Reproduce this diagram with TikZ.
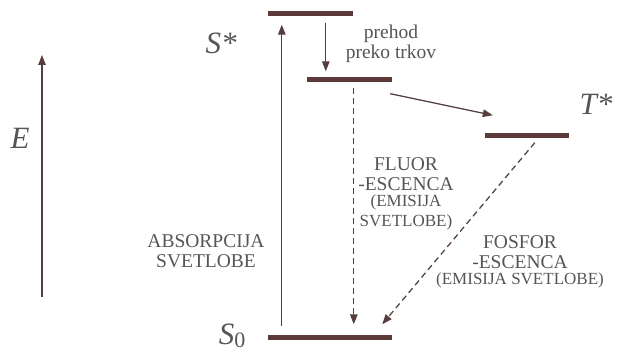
\documentclass[tikz,border=0pt]{standalone}
\usepackage{fontspec}
\setmainfont{Liberation Serif}
\usepackage{tikz}
\usetikzlibrary{arrows.meta, positioning, calc}

\definecolor{lvlcol}{RGB}{92,58,58}
\definecolor{arrcol}{RGB}{85,62,62}
\definecolor{txtcol}{RGB}{85,85,85}

\begin{document}
\begin{tikzpicture}[x=1pt, y=-1pt,
		level/.style={fill=lvlcol, inner sep=0pt, minimum height=5pt},
		arr/.style={arrcol, line width=1.25pt, -{Triangle[length=10pt,width=7.5pt]}},
		darr/.style={arr, dash pattern=on 6pt off 4pt},
		lab/.style={txtcol, align=center, font=\fontsize{19.5}{20.5}\selectfont},
		smalllab/.style={txtcol, align=center, font=\fontsize{17}{20}\selectfont},
		sym/.style={txtcol, font=\fontsize{31}{33}\selectfont\itshape}]
	\useasboundingbox (0,0) rectangle (617,352);
	% energijski nivoji
	\node[level, minimum width=85pt] (Sx) at (310.5,14) {};
	\node[level, minimum width=85pt] (S1) at (349.5,80) {};
	\node[level, minimum width=84pt] (T) at (527,136) {};
	\node[level, minimum width=124pt] (S0) at (330,337) {};
	% oznake
	\node[sym] (Sxlab) at (221,43) {S*};
	\node[sym] (Tlab) at (596,104) {T*};
	\node[sym] (S0lab) at (232,336) {S\raisebox{-0.2ex}{\fontsize{22}{24}\selectfont\upshape 0}};
	\node[sym] (Elab) at (20,138) {E};
	% os energije
	\coordinate (Elo) at (42,297);
	\coordinate (Ehi) at (42,55);
	\draw[arr] (Elo) -- (Ehi);
	% prehodi
	\draw[arr, shorten <=8pt, shorten >=8pt] ([xshift=14pt]S0.north west) -- ([xshift=14pt]Sx.south west);
	\draw[arr, shorten <=6pt, shorten >=6pt] ([xshift=58pt]Sx.south west) -- ([xshift=19pt]S1.north west);
	\draw[arr] ([xshift=-2pt,yshift=-11pt]S1.south east) -- ([xshift=8pt,yshift=18pt]T.north west);
	\draw[darr, shorten <=5pt, shorten >=10pt] ([xshift=47pt]S1.south west) -- ([xshift=86pt]S0.north west);
	\draw[darr] ([xshift=50pt,yshift=-4pt]T.south west) -- ([xshift=-10pt,yshift=10pt]S0.north east);
	% besedila
	\node[lab] (trk) at (391,44) {prehod\\preko trkov};
	\node[lab] (abs) at (206,251) {ABSORPCIJA\\SVETLOBE};
	\node[lab] (fl) at (406,174) {FLUOR\\-ESCENCA};
	\node[smalllab, below=-3pt of fl] (flem) {(EMISIJA\\SVETLOBE)};
	\node[lab] (fo) at (520,252) {FOSFOR\\-ESCENCA};
	\node[smalllab, below=-3pt of fo] (foem) {(EMISIJA SVETLOBE)};
\end{tikzpicture}
\end{document}
